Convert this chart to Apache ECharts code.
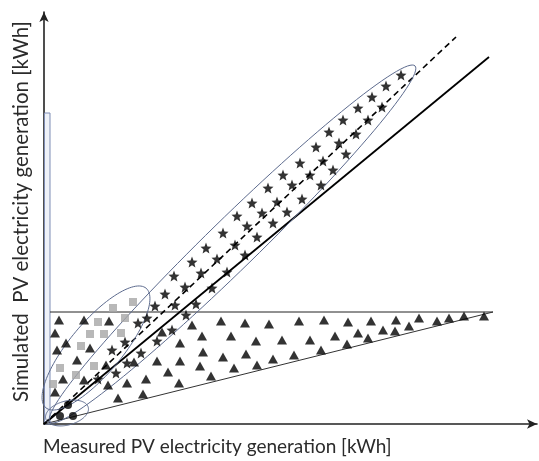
<!DOCTYPE html>
<html><head><meta charset="utf-8">
<script src="https://cdn.jsdelivr.net/npm/echarts@6/dist/echarts.min.js"></script>
<style>html,body{margin:0;padding:0;background:#fff}#c{width:539px;height:461px}</style>
</head><body><div id="c"></div>
<script>
// Schematic chart: units are arbitrary (measured vs simulated generation)
const triangles = [
 [15,104],[40,104],[65,103],[11,91],[22,81],[13,74],[46,76],[33,64],[19,45],[40,44],[64,39],[11,32],
 [83,41],[102,45],[74,26],[99,30],[62,59],[90,62],[118,92],[113,63],[124,52],[135,41],[136,81],[136,63],
 [148,99],[158,88],[159,72],[156,58],[167,48],[177,103],[187,88],[179,67],[190,56],[201,101],[212,83],
 [202,70],[213,59],[225,100],[229,65],[238,84],[250,69],[255,103],[266,84],[277,74],[280,104],[291,88],
 [303,80],[304,102],[314,91],[324,86],[327,103],[339,94],[351,93],[352,104],[365,98],[375,106],[393,103],
 [405,106],[420,108],[440,108]
];
const stars = [
 [357,349],[342,338],[328,327],[338,317],[314,316],[299,304],[324,304],[285,292],[312,290],[295,281],
 [272,277],[302,270],[256,261],[279,263],[289,254],[239,249],[266,249],[224,236],[248,239],[277,239],
 [208,221],[233,222],[258,225],[193,208],[218,211],[243,212],[179,191],[203,198],[229,201],[162,176],
 [191,179],[213,187],[148,162],[173,165],[201,169],[130,148],[157,151],[183,152],[121,130],[141,137],
 [168,136],[111,118],[131,119],[152,120],[103,106],[142,109],[94,101],[128,94],[113,83],[81,82],
 [68,74],[97,71],[83,61],[72,51],[54,45]
];
const squares = [
 [69,116],[89,122],[54,102],[81,106],[46,90],[60,90],[77,91],[37,78],[50,58],[16,56],[32,49],[9,40]
];
const circles = [[16,8],[29,8],[24,19]];
const solidLine = [[0,0],[445,367]];
const dashedLine = [[0,0],[412,387]];
const upperBound = [[6,112],[449,112]];
const lowerBound = [[0,0],[449,112]];
const barRange = [[0.5,6,311]];            // x0, x1, top
const ellipses = [                          // cx, cy, semi-major, semi-minor, angle(deg)
 [188.5,180,255,25,44.3],
 [52,76,78,26,50],
 [23,11,22,12,15]
];
const xName = 'Measured PV electricity generation [kWh]';
const yName = 'Simulated  PV electricity generation [kWh]';

const chart = echarts.init(document.getElementById('c'), null, {renderer:'canvas'});
const starPath = 'path://M12,0.5 L15.1,8.4 L23.5,8.9 L17,14.3 L19.1,22.5 L12,18 L4.9,22.5 L7,14.3 L0.5,8.9 L8.9,8.4 Z';
const axisCommon = {
  type:'value', splitLine:{show:false}, axisTick:{show:false}, axisLabel:{show:false},
  axisLine:{show:true, symbol:['none','arrow'], symbolSize:[7,10], lineStyle:{color:'#222', width:1.6}}
};
chart.setOption({
  animation:false,
  backgroundColor:'#fff',
  grid:{left:44, right:2, top:12, bottom:37},
  xAxis:Object.assign({min:0, max:493}, axisCommon),
  yAxis:Object.assign({min:0, max:412}, axisCommon),
  graphic:[
    {type:'text', left:43, top:437, style:{text:xName, font:'19px Lato', fill:'#2b2b2b'}},
    {type:'text', x:11, y:402, rotation:Math.PI/2, style:{text:yName, font:'20.5px Lato', fill:'#2b2b2b', textAlign:'left', textVerticalAlign:'top'}}
  ],
  series:[
    {type:'custom', data:barRange, encode:{x:[0,1], y:2}, clip:false, z:1,
     renderItem:function(p, api){
       const a = api.coord([api.value(0), 0]);
       const b = api.coord([api.value(1), api.value(2)]);
       return {type:'rect', shape:{x:a[0], y:b[1], width:b[0]-a[0], height:a[1]-b[1]},
               style:{fill:'#eef1f8', stroke:'#7f8db5', lineWidth:1}};
     }},
    {type:'line', data:upperBound, symbol:'none', lineStyle:{color:'#222', width:1}, clip:false, z:2},
    {type:'line', data:lowerBound, symbol:'none', lineStyle:{color:'#333', width:1}, clip:false, z:2},
    {type:'line', data:solidLine, symbol:'none', lineStyle:{color:'#000', width:1.8}, clip:false, z:3},
    {type:'line', data:dashedLine, symbol:'none', lineStyle:{color:'#000', width:1.6, type:[6,4]}, clip:false, z:3},
    {type:'custom', data:ellipses, encode:{x:0, y:1}, clip:false, z:4,
     renderItem:function(p, api){
       const cx=api.value(0), cy=api.value(1), a=api.value(2), b=api.value(3), ang=api.value(4)*Math.PI/180;
       const pts=[];
       for(let i=0;i<120;i++){
         const t=i/120*2*Math.PI;
         const x=cx+a*Math.cos(t)*Math.cos(ang)-b*Math.sin(t)*Math.sin(ang);
         const y=cy+a*Math.cos(t)*Math.sin(ang)+b*Math.sin(t)*Math.cos(ang);
         pts.push(api.coord([x,y]));
       }
       return {type:'polygon', shape:{points:pts}, style:{fill:'none', stroke:'#5d6b8e', lineWidth:1}};
     }},
    {type:'scatter', data:triangles, symbol:'triangle', symbolSize:[10,9], itemStyle:{color:'#000'}, z:5},
    {type:'scatter', data:stars, symbol:starPath, symbolSize:11, itemStyle:{color:'#000'}, z:5},
    {type:'scatter', data:squares, symbol:'rect', symbolSize:8, itemStyle:{color:'#a6a6a6'}, z:5},
    {type:'scatter', data:circles, symbol:'circle', symbolSize:8, itemStyle:{color:'#000'}, z:5}
  ]
});
</script>
</body></html>
